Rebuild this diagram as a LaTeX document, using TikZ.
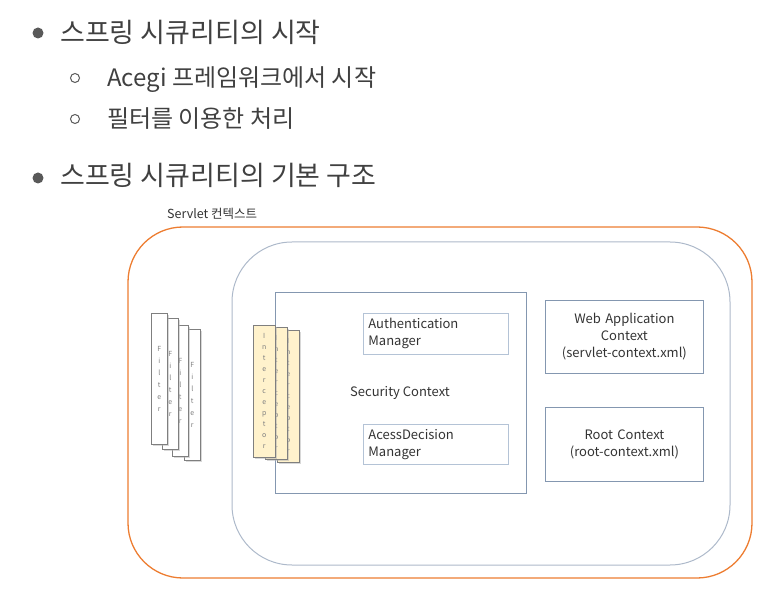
\documentclass[tikz,border=0pt]{standalone}
\usepackage{fontspec}
\setmainfont{Noto Sans CJK KR}
\usetikzlibrary{shadows,positioning}

\definecolor{headgray}{HTML}{404040}
\definecolor{dotgray}{HTML}{595959}
\definecolor{servletorange}{HTML}{ED7D31}
\definecolor{appgray}{HTML}{ADB9CA}
\definecolor{secgray}{HTML}{8497B0}
\definecolor{boxline}{HTML}{B4C3D6}
\definecolor{cardline}{HTML}{7F7F7F}
\definecolor{cardyellow}{HTML}{FFF2CC}

\tikzset{
  heading/.style={anchor=base west, inner sep=0pt, text=headgray, font=\fontsize{27}{32}\selectfont},
  subheading/.style={anchor=base west, inner sep=0pt, text=headgray, font=\fontsize{24}{28}\selectfont},
  bigdot/.style={circle, fill=dotgray, minimum size=11pt, inner sep=0pt},
  smalldot/.style={circle, draw=dotgray, line width=1pt, minimum size=9pt, inner sep=0pt},
  filtercard/.style={draw=cardline, fill=white, line width=0.5pt, anchor=north west,
    minimum width=16pt, minimum height=131pt, inner sep=0pt, align=center, text=gray,
    font=\fontsize{7}{12}\selectfont, drop shadow={shadow xshift=1.5pt, shadow yshift=-1.5pt, fill=gray!60}},
  interceptorcard/.style={filtercard, fill=cardyellow, minimum width=22pt, minimum height=132pt,
    font=\fontsize{7}{11}\selectfont},
  mgrbox/.style={draw=boxline, line width=0.8pt, anchor=north west, minimum width=145pt, minimum height=40pt,
    text width=135pt, inner sep=5pt, align=left, text=black!80, font=\fontsize{13}{17}\selectfont},
  ctxbox/.style={draw=secgray, line width=0.8pt, anchor=north west, minimum width=158pt,
    text width=150pt, inner sep=0pt, align=center, text=black!80, font=\fontsize{13}{17}\selectfont}
}

\begin{document}
\begin{tikzpicture}[x=1pt,y=-1pt]
    \useasboundingbox (0,0) rectangle (773,593);
    \node[bigdot] (b1) at (38,33) {};
    \node[heading] (t1) at (60,43) {스프링 시큐리티의 시작};
    \node[smalldot] (b2) at (75,78) {};
    \node[subheading] (t2) at (107,87) {Acegi 프레임워크에서 시작};
    \node[smalldot] (b3) at (75,119) {};
    \node[subheading] (t3) at (107,128) {필터를 이용한 처리};
    \node[bigdot] (b4) at (38,178) {};
    \node[heading] (t4) at (60,186) {스프링 시큐리티의 기본 구조};

    \node[anchor=base west, inner sep=0pt, text=black!80, font=\fontsize{12.5}{15}\selectfont] (servlet) at (167,219) {Servlet 컨텍스트};
    \draw[servletorange, line width=1.3pt, rounded corners=55pt] (128,227) rectangle (752,578);
    \draw[appgray, line width=1pt, rounded corners=60pt] (232,242) rectangle (730,565);
    \draw[secgray, line width=0.8pt] (275,292) rectangle (526,493);

    \foreach \i/\x/\y in {4/184/329, 3/172/325, 2/162/318, 1/151/313}
        \node[filtercard] (f\i) at (\x,\y) {F\\i\\l\\t\\e\\r};
    \foreach \i/\x/\y in {3/277/330, 2/265/327, 1/253/325}
        \node[interceptorcard] (ic\i) at (\x,\y) {I\\n\\t\\e\\r\\c\\e\\p\\t\\o\\r};

    \node[mgrbox] (auth) at (363,313) {Authentication\\Manager};
    \node[text=black!80, font=\fontsize{13}{17}\selectfont] (sec) at (400,393) {Security Context};
    \node[mgrbox] (acess) at (363,424) {AcessDecision\\Manager};

    \node[ctxbox, minimum height=73pt] (web) at (545,300) {Web Application\\Context\\(servlet-context.xml)};
    \node[ctxbox, minimum height=74pt] (root) at (545,407) {Root Context\\(root-context.xml)};
\end{tikzpicture}
\end{document}
